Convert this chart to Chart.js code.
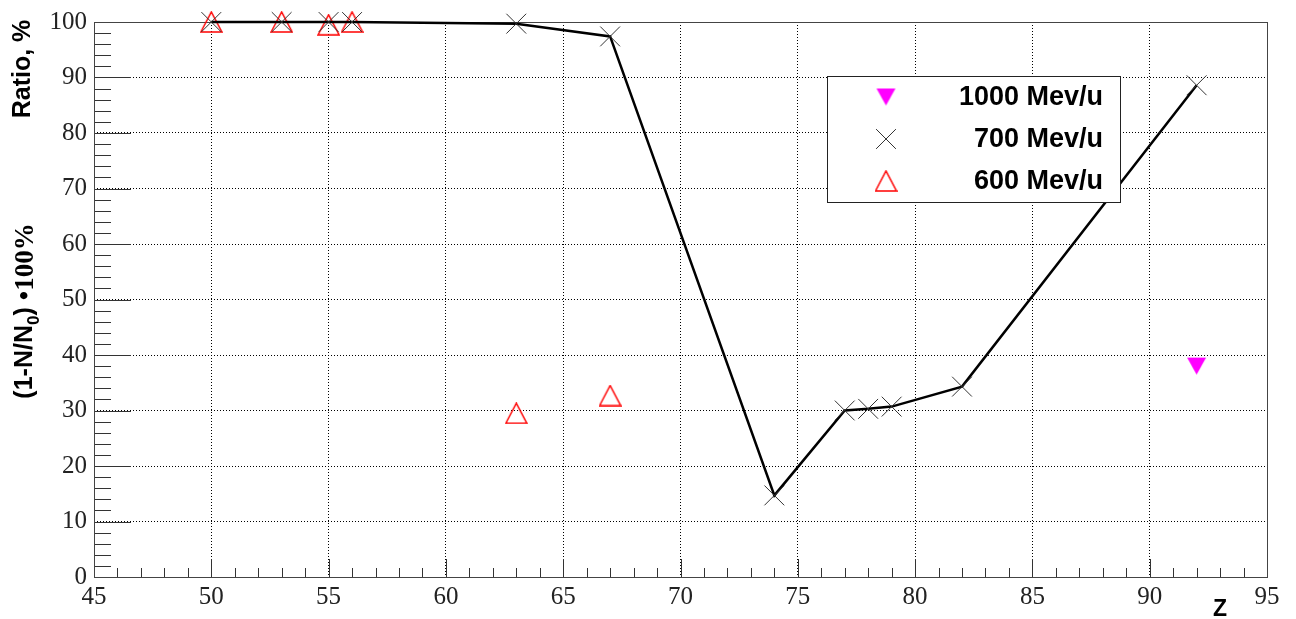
<!DOCTYPE html>
<html>
<head>
<meta charset="utf-8">
<script src="https://cdn.jsdelivr.net/npm/chart.js@4.4.0/dist/chart.umd.min.js"></script>
<style>
    html, body { margin: 0; padding: 0; background: #fff; }
    #wrap { width: 1296px; height: 619px; }
</style>
</head>
<body>
<div id="wrap"><canvas id="chart" width="1296" height="619"></canvas></div>
<script>
// Measured ratio (1-N/N0)*100% against Z, per beam energy
const z1000 = [92];
const ratio1000 = [38];

const z700 = [50, 53, 55, 56, 63, 67, 74, 77, 78, 79, 82, 92];
const ratio700 = [100, 100, 100, 100, 99.7, 97.4, 14.7, 30.0, 30.3, 30.7, 34.3, 88.6];

const z600 = [50, 53, 55, 56, 63, 67];
const ratio600 = [100, 100, 99.5, 100, 29.5, 32.7];

const seriesLabels = ['1000 Mev/u', '700 Mev/u', '600 Mev/u'];

// Axis tick labels
const xTicks = [45, 50, 55, 60, 65, 70, 75, 80, 85, 90, 95];
const yTicks = [0, 10, 20, 30, 40, 50, 60, 70, 80, 90, 100];

function toPoints(xs, ys) {
    return xs.map((x, i) => ({ x: x, y: ys[i] }));
}

// Small canvases used as ROOT-like triangle markers (centred on their box)
function triangleMarker(w, h, color, down, filled) {
    const c = document.createElement('canvas');
    c.width = w + 2;
    c.height = h + 2;
    const g = c.getContext('2d');
    g.beginPath();
    if (down) {
        g.moveTo(1, 1);
        g.lineTo(w + 1, 1);
        g.lineTo(w / 2 + 1, h + 1);
    } else {
        g.moveTo(1, h + 1);
        g.lineTo(w / 2 + 1, 1);
        g.lineTo(w + 1, h + 1);
    }
    g.closePath();
    if (filled) {
        g.fillStyle = color;
        g.fill();
    } else {
        g.strokeStyle = color;
        g.lineWidth = 1.5;
        g.stroke();
    }
    return c;
}

const magentaDown = triangleMarker(19, 17, '#ff00ff', true, true);
const redUp = triangleMarker(21, 20, '#ff0000', false, false);

const serif = '"Liberation Serif", "DejaVu Serif", serif';
const sans = '"Liberation Sans", Arial, sans-serif';

// Frame, inside ticks, axis titles and legend box
const decorPlugin = {
    id: 'decor',
    beforeDatasetsDraw(chart) {
        const ctx = chart.ctx;
        const a = chart.chartArea;
        const xs = chart.scales.x;
        const ys = chart.scales.y;
        ctx.save();
        ctx.strokeStyle = '#333';
        ctx.lineWidth = 1;
        ctx.beginPath();
        // x ticks: minor every 1, major every 5
        for (let v = 45; v <= 95; v++) {
            const px = Math.round(xs.getPixelForValue(v)) + 0.5;
            const len = (v % 5 === 0) ? 18 : 9;
            ctx.moveTo(px, a.bottom);
            ctx.lineTo(px, a.bottom - len);
        }
        // y ticks: minor every 2, major every 10
        for (let v = 0; v <= 100; v += 2) {
            const py = Math.round(ys.getPixelForValue(v)) + 0.5;
            const len = (v % 10 === 0) ? 37 : 17;
            ctx.moveTo(a.left, py);
            ctx.lineTo(a.left + len, py);
        }
        ctx.stroke();
        // frame
        ctx.strokeStyle = '#444';
        ctx.strokeRect(Math.round(a.left) + 0.5, Math.round(a.top) + 0.5,
            Math.round(a.right - a.left), Math.round(a.bottom - a.top));
        ctx.restore();
    },
    afterDraw(chart) {
        const ctx = chart.ctx;
        const helpers = Chart.helpers;
        ctx.save();
        ctx.fillStyle = '#000';

        // y axis titles
        ctx.save();
        ctx.translate(23, 69);
        ctx.rotate(-Math.PI / 2);
        ctx.font = 'bold 25px ' + sans;
        ctx.textAlign = 'center';
        ctx.textBaseline = 'middle';
        ctx.fillText('Ratio, %', 0, 0);
        ctx.restore();

        ctx.save();
        ctx.translate(25, 311);
        ctx.rotate(-Math.PI / 2);
        ctx.textBaseline = 'middle';
        ctx.textAlign = 'left';
        const mainFont = 'bold 25px ' + sans;
        const subFont = 'bold 17px ' + sans;
        const tailFont = 'bold 27px ' + serif;
        const p1 = '(1-N/N', p2 = '0', p3 = ') ', p4 = '\u2022100%';
        ctx.font = mainFont;
        const w1 = ctx.measureText(p1).width;
        const w3 = ctx.measureText(p3).width;
        ctx.font = subFont;
        const w2 = ctx.measureText(p2).width;
        ctx.font = tailFont;
        const w4 = ctx.measureText(p4).width;
        let x0 = -(w1 + w2 + w3 + w4) / 2;
        ctx.font = mainFont;
        ctx.fillText(p1, x0, 0);
        ctx.font = subFont;
        ctx.fillText(p2, x0 + w1, 9);
        ctx.font = mainFont;
        ctx.fillText(p3, x0 + w1 + w2, 0);
        ctx.font = tailFont;
        ctx.fillText(p4, x0 + w1 + w2 + w3, 1);
        ctx.restore();

        // x axis title
        ctx.font = 'bold 23px ' + sans;
        ctx.textAlign = 'center';
        ctx.textBaseline = 'middle';
        ctx.fillText('Z', 1220, 610);

        // legend
        ctx.fillStyle = '#fff';
        ctx.fillRect(827, 76, 293, 126);
        ctx.strokeStyle = '#222';
        ctx.lineWidth = 1;
        ctx.strokeRect(827.5, 76.5, 293, 126);

        const ds = chart.data.datasets;
        const rows = [97, 139, 181];
        ds.forEach((d, i) => {
            ctx.strokeStyle = d.pointBorderColor || '#000';
            ctx.fillStyle = d.pointBackgroundColor || '#000';
            ctx.lineWidth = d.pointBorderWidth || 1;
            helpers.drawPoint(ctx, {
                pointStyle: d.pointStyle,
                radius: d.pointRadius,
                rotation: 0,
                borderWidth: d.pointBorderWidth || 1
            }, 886, rows[i]);
            ctx.fillStyle = '#000';
            ctx.font = 'bold 27px ' + sans;
            ctx.textAlign = 'right';
            ctx.textBaseline = 'middle';
            ctx.fillText(seriesLabels[i], 1103, rows[i] + 1);
        });
        ctx.restore();
    }
};

const ctx = document.getElementById('chart').getContext('2d');
new Chart(ctx, {
    type: 'scatter',
    data: {
        datasets: [
            {
                label: seriesLabels[0],
                data: toPoints(z1000, ratio1000),
                pointStyle: magentaDown,
                pointRadius: 10,
                pointBorderWidth: 0,
                pointBackgroundColor: '#ff00ff',
                pointBorderColor: '#ff00ff',
                showLine: false,
                clip: false
            },
            {
                label: seriesLabels[1],
                data: toPoints(z700, ratio700),
                showLine: true,
                borderColor: '#000',
                borderWidth: 2.5,
                tension: 0,
                pointStyle: 'crossRot',
                pointRadius: 14,
                pointBorderWidth: 1,
                pointBorderColor: '#333',
                pointBackgroundColor: '#333',
                clip: false
            },
            {
                label: seriesLabels[2],
                data: toPoints(z600, ratio600),
                pointStyle: redUp,
                pointRadius: 11,
                pointBorderWidth: 1.5,
                pointBorderColor: '#ff0000',
                pointBackgroundColor: 'rgba(0,0,0,0)',
                showLine: false,
                clip: false
            }
        ]
    },
    options: {
        responsive: false,
        animation: false,
        devicePixelRatio: 1,
        layout: { padding: { left: 0, right: 29, top: 21, bottom: 0 } },
        plugins: {
            legend: { display: false },
            tooltip: { enabled: false }
        },
        scales: {
            x: {
                type: 'linear',
                min: 45,
                max: 95,
                afterBuildTicks: scale => { scale.ticks = xTicks.map(v => ({ value: v })); },
                afterFit: scale => { scale.height = 42; },
                ticks: {
                    color: '#222',
                    font: { family: serif, size: 25 },
                    padding: 5,
                    maxRotation: 0,
                    autoSkip: false
                },
                grid: { color: '#000', lineWidth: 1, drawTicks: false },
                border: { display: false, dash: [1, 2] }
            },
            y: {
                type: 'linear',
                min: 0,
                max: 100,
                afterBuildTicks: scale => { scale.ticks = yTicks.map(v => ({ value: v })); },
                afterFit: scale => { scale.width = 94; },
                ticks: {
                    color: '#222',
                    font: { family: serif, size: 25 },
                    padding: 7,
                    autoSkip: false
                },
                grid: { color: '#000', lineWidth: 1, drawTicks: false },
                border: { display: false, dash: [1, 2] }
            }
        }
    },
    plugins: [decorPlugin]
});
</script>
</body>
</html>
